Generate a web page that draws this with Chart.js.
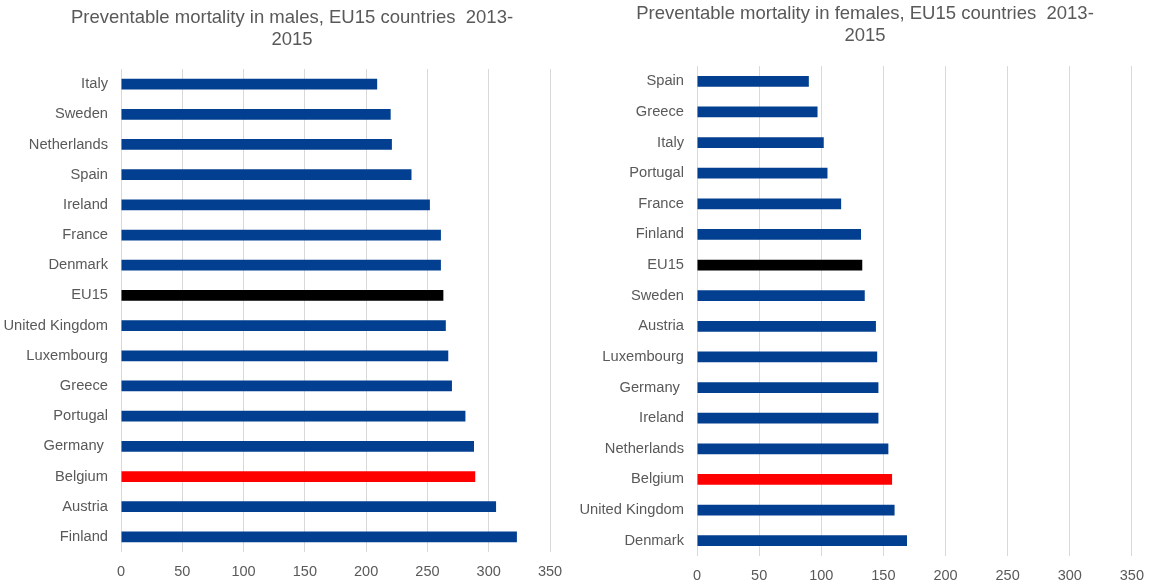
<!DOCTYPE html>
<html>
<head>
<meta charset="utf-8">
<script src="https://cdn.jsdelivr.net/npm/chart.js"></script>
<style>
  html, body { margin: 0; padding: 0; background: #fff; }
  .wrap { position: relative; width: 1155px; height: 585px; }
  #malesChart { position: absolute; left: 0; top: 0; }
  #femalesChart { position: absolute; left: 577px; top: 0; }
</style>
</head>
<body>
<div class="wrap">
  <canvas id="malesChart" width="577" height="585"></canvas>
  <canvas id="femalesChart" width="578" height="585"></canvas>
</div>

<script>
    // values
    const maleCountries = ['Italy', 'Sweden', 'Netherlands', 'Spain', 'Ireland', 'France', 'Denmark', 'EU15',
        'United Kingdom', 'Luxembourg', 'Greece', 'Portugal', 'Germany ', 'Belgium', 'Austria', 'Finland'];
    const maleValues = [209, 220, 221, 237, 252, 261, 261, 263, 265, 267, 270, 281, 288, 289, 306, 323];

    const femaleCountries = ['Spain', 'Greece', 'Italy', 'Portugal', 'France', 'Finland', 'EU15', 'Sweden',
        'Austria', 'Luxembourg', 'Germany ', 'Ireland', 'Netherlands', 'Belgium', 'United Kingdom', 'Denmark'];
    const femaleValues = [90, 97, 102, 105, 116, 132, 133, 135, 144, 145, 146, 146, 154, 157, 159, 169];

    const maleTitle = ['Preventable mortality in males, EU15 countries  2013-', '2015'];
    const femaleTitle = ['Preventable mortality in females, EU15 countries  2013-', '2015'];

    const axisMax = 350;
    const axisStep = 50;

    const BLUE = '#033f91';
    const GREY_TEXT = '#595959';
    const GRID = '#d9d9d9';
    const FONT = 'Liberation Sans, Arial, sans-serif';

    function barColor(name) {
        if (name === 'EU15') return '#000000';
        if (name === 'Belgium') return '#ff0000';
        return BLUE;
    }

    function makeChart(id, labels, values, title, opts) {
        const ctx = document.getElementById(id).getContext('2d');
        return new Chart(ctx, {
            type: 'bar',
            data: {
                labels: labels,
                datasets: [{
                    data: values,
                    backgroundColor: labels.map(barColor),
                    borderWidth: 0,
                    barPercentage: 0.355,
                    categoryPercentage: 1
                }]
            },
            // the original title is centred a bit right of the canvas middle
            plugins: [{
                id: 'shiftTitle',
                afterLayout: chart => { if (chart.titleBlock) chart.titleBlock.left += opts.titleShift; }
            }],
            options: {
                indexAxis: 'y',
                responsive: false,
                animation: false,
                devicePixelRatio: 1,
                layout: { padding: { top: 0, left: 0, right: opts.padRight, bottom: 0 } },
                plugins: {
                    legend: { display: false },
                    tooltip: { enabled: false },
                    title: {
                        display: true,
                        text: title,
                        color: GREY_TEXT,
                        font: { family: FONT, size: 18.5, weight: 'normal', lineHeight: 1.2 },
                        padding: { top: opts.titleTop, bottom: opts.titleBottom }
                    }
                },
                scales: {
                    x: {
                        min: 0,
                        max: axisMax,
                        ticks: {
                            stepSize: axisStep,
                            color: GREY_TEXT,
                            padding: 11,
                            font: { family: FONT, size: 14.5 }
                        },
                        grid: { color: GRID, drawTicks: false },
                        border: { display: false },
                        afterFit: s => { s.height = opts.xHeight; }
                    },
                    y: {
                        ticks: {
                            color: GREY_TEXT,
                            padding: 13,
                            autoSkip: false,
                            font: { family: FONT, size: 14.7 }
                        },
                        grid: { display: false, drawTicks: false },
                        border: { display: false },
                        afterFit: s => { s.width = opts.yWidth; }
                    }
                }
            }
        });
    }

    makeChart('malesChart', maleCountries, maleValues, maleTitle,
        { titleShift: 34, padRight: 27, titleTop: 7, titleBottom: 17.6, xHeight: 33, yWidth: 121 });
    makeChart('femalesChart', femaleCountries, femaleValues, femaleTitle,
        { titleShift: 20, padRight: 22, titleTop: 3, titleBottom: 18.6, xHeight: 29, yWidth: 120 });
</script>
</body>
</html>
